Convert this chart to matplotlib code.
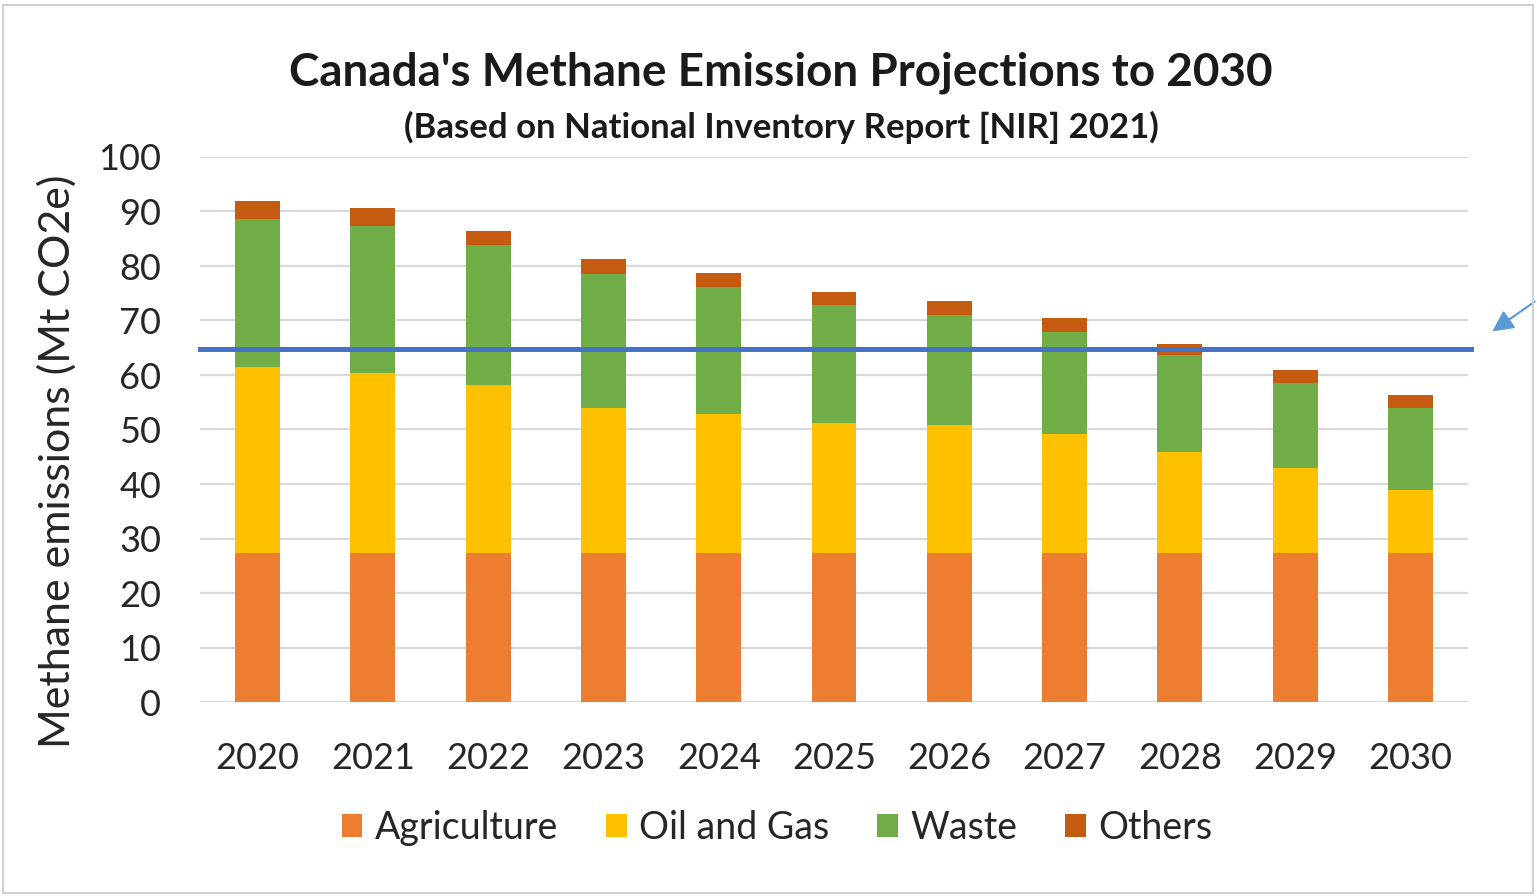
import matplotlib.pyplot as plt
import matplotlib.patches as patches
import numpy as np

years = ["2020", "2021", "2022", "2023", "2024", "2025",
         "2026", "2027", "2028", "2029", "2030"]

# Mt CO2e per sector, stacked bottom to top
agriculture = [27.3, 27.3, 27.3, 27.3, 27.3, 27.3, 27.3, 27.3, 27.3, 27.3, 27.3]
oil_and_gas = [34.2, 33.0, 30.9, 26.6, 25.5, 23.9, 23.5, 21.9, 18.5, 15.6, 11.6]
waste = [27.1, 27.0, 25.7, 24.6, 23.4, 21.6, 20.3, 18.7, 17.9, 15.7, 15.0]
others = [3.4, 3.3, 2.5, 2.7, 2.5, 2.5, 2.5, 2.5, 2.0, 2.4, 2.4]

target = 64.8

series = [("Agriculture", agriculture, "#ED7D31"),
          ("Oil and Gas", oil_and_gas, "#FFC000"),
          ("Waste", waste, "#70AD47"),
          ("Others", others, "#C55A11")]

plt.rcParams['font.family'] = ['Lato', 'DejaVu Sans']

W, H = 1537, 896
fig = plt.figure(figsize=(W / 100, H / 100), dpi=100)
ax = fig.add_axes([200 / W, 1 - 702 / H, 1268 / W, 545 / H])

x = np.arange(len(years))
bottom = np.zeros(len(years))
handles = []
for name, vals, col in series:
    b = ax.bar(x, vals, 0.39, bottom=bottom, color=col, label=name, zorder=2)
    handles.append(b)
    bottom += np.array(vals)

ax.plot([-0.5, 10.53], [target, target], color="#4472C4", lw=3.6,
        zorder=3, clip_on=False)

ax.set_xlim(-0.5, 10.5)
ax.set_ylim(0, 100)
ax.set_yticks(np.arange(0, 101, 10))
ax.set_xticks(x)
ax.set_xticklabels(years)
ax.yaxis.grid(True, color="#D9D9D9", lw=1.6, zorder=0)
ax.set_axisbelow(True)
for s in ax.spines.values():
    s.set_visible(False)
ax.tick_params(length=0, labelsize=26, colors="#262626")
ax.tick_params(axis="y", pad=28)
ax.tick_params(axis="x", pad=29)
ax.set_ylabel("Methane emissions (Mt CO2e)", fontsize=31, color="#262626")
ax.yaxis.set_label_coords(-0.097, 0.442)

fig.text(781 / W, 1 - 73 / H, "Canada's Methane Emission Projections to 2030",
         ha="center", va="center", fontsize=33, fontweight="bold", color="#1a1a1a")
fig.text(781 / W, 1 - 127 / H, "(Based on National Inventory Report [NIR] 2021)",
         ha="center", va="center", fontsize=25, fontweight="bold", color="#1a1a1a")

fig.legend(handles=handles, loc="center", bbox_to_anchor=(777 / W, 1 - 828 / H),
           ncol=4, frameon=False, fontsize=27, handlelength=0.55, handleheight=0.55,
           handletextpad=0.33, columnspacing=1.28, labelcolor="#262626")

# pointer arrow entering from the right edge
ax.annotate("", xy=(1490 / W, 1 - 333 / H), xycoords="figure fraction",
            xytext=(1.0, 1 - 300 / H), textcoords="figure fraction",
            arrowprops=dict(arrowstyle="-|>", color="#5B9BD5", lw=1.5,
                            mutation_scale=32))

fig.patches.append(patches.Rectangle((3 / W, 3 / H), 1 - 7 / W, 1 - 8 / H,
                                     transform=fig.transFigure, fill=False,
                                     edgecolor="#D0D0D0", lw=1.5))

fig.savefig("out.png", dpi=100)
